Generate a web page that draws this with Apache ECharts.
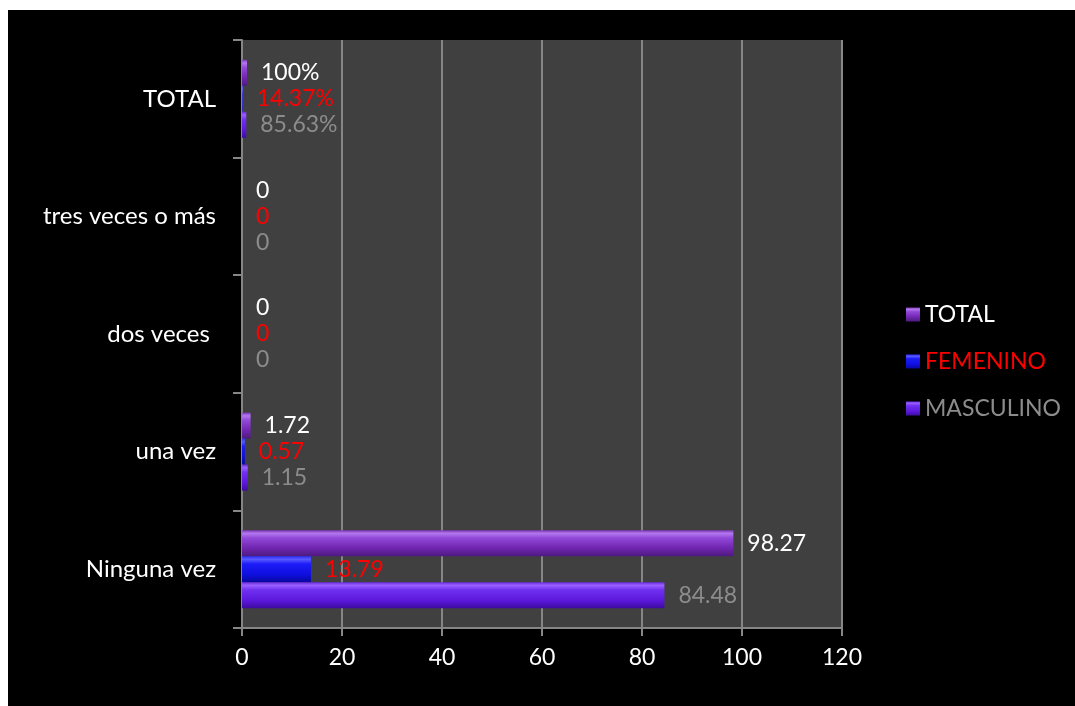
<!DOCTYPE html>
<html>
<head>
<meta charset="utf-8">
<script src="https://cdn.jsdelivr.net/npm/echarts@6/dist/echarts.min.js"></script>
<style>
  html, body { margin: 0; padding: 0; background: #ffffff; width: 1075px; height: 706px; overflow: hidden; }
  #chart { position: absolute; left: 8px; top: 10px; width: 1067px; height: 696px; background: #000000; }
</style>
</head>
<body>
<div id="chart"></div>
<script>
// Categories from bottom to top of the vertical axis
const categories = ['Ninguna vez', 'una vez', 'dos veces ', 'tres veces o más', 'TOTAL'];
// Series values per category (TOTAL row stored as fractions, shown as percentages)
const total     = [98.27, 1.72, 0, 0, 1];
const femenino  = [13.79, 0.57, 0, 0, 0.1437];
const masculino = [84.48, 1.15, 0, 0, 0.8563];
const xTicks = [0, 20, 40, 60, 80, 100, 120];

const FONT = 'Lato, "Open Sans", sans-serif';

function fmt(p) {
  if (p.name === 'TOTAL') return (Math.round(p.value * 10000) / 100) + '%';
  return String(p.value);
}

function grad(stops) {
  return new echarts.graphic.LinearGradient(0, 0, 0, 1,
    stops.map(function (s) { return { offset: s[0], color: s[1] }; }));
}

const totalColor = grad([[0, '#7a34b8'], [0.12, '#b378ee'], [0.3, '#9248d8'], [0.65, '#7428b4'], [1, '#4e1a80']]);
const femColor   = grad([[0, '#2a2aff'], [0.12, '#5a5aff'], [0.3, '#1c1cf8'], [0.7, '#0f0fe0'], [1, '#0808a0']]);
const mascColor  = grad([[0, '#6a28e0'], [0.12, '#9a60ff'], [0.3, '#7030f0'], [0.7, '#5c18dc'], [1, '#3c0ca0']]);

function barSeries(name, data, color, labelColor) {
  return {
    name: name,
    type: 'bar',
    data: data,
    barWidth: 26,
    barGap: '0%',
    itemStyle: { color: color },
    label: {
      show: true,
      position: 'right',
      distance: 14,
      color: labelColor,
      fontSize: 23,
      fontFamily: FONT,
      formatter: fmt
    },
    emphasis: { disabled: true }
  };
}

const chart = echarts.init(document.getElementById('chart'));
chart.setOption({
  animation: false,
  backgroundColor: '#000000',
  grid: {
    left: 234, right: 233, top: 30, bottom: 78,
    show: true, backgroundColor: '#404040', borderWidth: 0
  },
  legend: {
    orient: 'vertical',
    left: 893,
    top: 288,
    itemWidth: 14,
    itemHeight: 14,
    itemGap: 24,
    icon: 'rect',
    textStyle: { fontSize: 23, fontFamily: FONT },
    data: [
      { name: 'TOTAL', textStyle: { color: '#ffffff' } },
      { name: 'FEMENINO', textStyle: { color: '#ff0000' } },
      { name: 'MASCULINO', textStyle: { color: '#8c8c8c' } }
    ]
  },
  xAxis: {
    type: 'value',
    min: xTicks[0],
    max: xTicks[xTicks.length - 1],
    interval: xTicks[1] - xTicks[0],
    axisLine: { show: true, lineStyle: { color: '#868686', width: 2 } },
    axisTick: { show: true, length: 8, lineStyle: { color: '#868686', width: 2 } },
    axisLabel: { color: '#ffffff', fontSize: 23, fontFamily: FONT, margin: 18 },
    splitLine: { show: true, lineStyle: { color: '#868686', width: 2 } }
  },
  yAxis: {
    type: 'category',
    data: categories,
    axisLine: { show: true, lineStyle: { color: '#868686', width: 2 } },
    axisTick: { show: true, length: 9, alignWithLabel: false, lineStyle: { color: '#868686', width: 2 } },
    axisLabel: { color: '#ffffff', fontSize: 24, fontFamily: FONT, margin: 26 },
    splitLine: { show: false }
  },
  // First series is drawn at the top of each category band
  series: [
    barSeries('TOTAL', total, totalColor, '#ffffff'),
    barSeries('FEMENINO', femenino, femColor, '#ff0000'),
    barSeries('MASCULINO', masculino, mascColor, '#8c8c8c')
  ]
});
</script>
</body>
</html>
